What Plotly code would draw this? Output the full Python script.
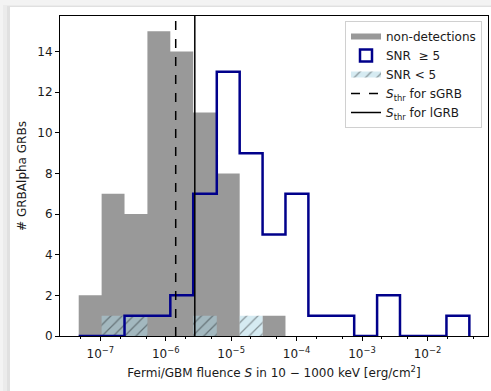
import numpy as np
import plotly.graph_objects as go

# log10 of the histogram bin edges
bin_edge_exp = [-7.33, -6.98, -6.63, -6.28, -5.93, -5.58, -5.22, -4.87, -4.52,
                -4.17, -3.82, -3.47, -3.12, -2.77, -2.42, -2.07, -1.71, -1.36]

# counts per bin
non_detections = [2, 7, 6, 15, 14, 11, 8, 0, 1, 0, 0, 0, 0, 0, 0, 0, 0]
snr_high = [0, 0, 1, 1, 2, 7, 13, 9, 5, 7, 1, 1, 0, 2, 0, 0, 1]
snr_low = [0, 1, 1, 0, 0, 1, 0, 1, 0, 0, 0, 0, 0, 0, 0, 0, 0]

# detection thresholds [erg/cm^2]
s_thr_short = 1.42e-6
s_thr_long = 2.78e-6

tick_exps = [-7, -6, -5, -4, -3, -2]
y_ticks = [0, 2, 4, 6, 8, 10, 12, 14]
Y_MAX = 15.75
X_RANGE = [-7.616, -1.075]

edges = 10.0 ** np.array(bin_edge_exp)


def bar_polygons(counts):
    xs, ys = [], []
    for i, c in enumerate(counts):
        if c <= 0:
            continue
        x0, x1 = edges[i], edges[i + 1]
        xs += [x0, x0, x1, x1, x0, None]
        ys += [0, c, c, 0, 0, None]
    return xs, ys


def step_outline(counts):
    xs = [edges[0]] + list(edges[:-1]) + [edges[-1]]
    ys = [0] + list(counts) + [0]
    return xs, ys


FONT = "DejaVu Sans"
TXT = "#1a1a1a"
FS = 12

fig = go.Figure()

gx, gy = bar_polygons(non_detections)
fig.add_trace(go.Scatter(
    x=gx, y=gy, mode="none", fill="toself", fillcolor="#999999",
    name="non-detections", legendrank=1, hoverinfo="skip"))

hx, hy = bar_polygons(snr_low)
fig.add_trace(go.Scatter(
    x=hx, y=hy, mode="none", fill="toself",
    fillcolor="rgba(173,216,230,0.5)",
    fillpattern=dict(shape="/", size=8, solidity=0.15,
                     fgcolor="rgba(0,0,0,0.75)", bgcolor="rgba(173,216,230,0.5)"),
    name="SNR < 5", legendrank=3, hoverinfo="skip"))

sx, sy = step_outline(snr_high)
fig.add_trace(go.Scatter(
    x=sx, y=sy, mode="lines", line=dict(color="#00008b", width=2.5, shape="hv"),
    showlegend=False, hoverinfo="skip"))
# legend patch for the outlined histogram
fig.add_trace(go.Bar(
    x=[None], y=[None],
    marker=dict(color="white", line=dict(color="#00008b", width=2.5)),
    name="SNR  \u2265 5", legendrank=2))

fig.add_trace(go.Scatter(
    x=[s_thr_short, s_thr_short], y=[0, Y_MAX], mode="lines",
    line=dict(color="black", width=1.5, dash="dash"),
    name="<i>S</i><sub>thr</sub> for sGRB", legendrank=4, hoverinfo="skip"))
fig.add_trace(go.Scatter(
    x=[s_thr_long, s_thr_long], y=[0, Y_MAX], mode="lines",
    line=dict(color="black", width=1.5),
    name="<i>S</i><sub>thr</sub> for lGRB", legendrank=5, hoverinfo="skip"))

W, H = 491, 391
ML, MR, MT, MB = 60, 3, 16, 55
PW, PH = W - ML - MR, H - MT - MB


def px_x(px):
    return (px - ML) / PW


def px_y(py):
    return (H - MB - py) / PH


# card background with a soft shadow on its top and left
shapes = [
    dict(type="rect", xref="paper", yref="paper", layer="below",
         x0=px_x(3), x1=px_x(W + 5), y0=px_y(H + 5), y1=px_y(5),
         fillcolor="#ebebeb", line_width=0),
    dict(type="rect", xref="paper", yref="paper", layer="below",
         x0=px_x(7), x1=px_x(W + 5), y0=px_y(H + 5), y1=px_y(6),
         fillcolor="#e0e0e0", line_width=0),
    dict(type="rect", xref="paper", yref="paper", layer="below",
         x0=px_x(10), x1=px_x(W + 5), y0=px_y(H + 5), y1=px_y(7),
         fillcolor="white", line_width=0),
]

fig.update_layout(
    width=W, height=H,
    margin=dict(l=ML, r=MR, t=MT, b=MB, pad=0),
    paper_bgcolor="#f3f3f3",
    plot_bgcolor="rgba(0,0,0,0)",
    font=dict(family=FONT, size=FS, color=TXT),
    shapes=shapes,
    showlegend=True,
    legend=dict(
        x=px_x(482), y=px_y(21), xanchor="right", yanchor="top",
        bgcolor="rgba(255,255,255,0.85)", bordercolor="#d0d0d0", borderwidth=1,
        font=dict(family=FONT, size=FS, color=TXT),
        tracegroupgap=0, itemwidth=30,
    ),
)

fig.update_xaxes(
    type="log", range=X_RANGE,
    tickvals=[10.0 ** e for e in tick_exps],
    ticktext=["10<sup>\u2212%d</sup>" % (-e) for e in tick_exps],
    ticks="outside", ticklen=4, tickwidth=1, tickcolor="black",
    ticklabelstandoff=3,
    minor=dict(ticks="outside", ticklen=2, tickwidth=0.8, tickcolor="black",
               showgrid=False),
    showgrid=False, zeroline=False,
    showline=True, linecolor="black", linewidth=1, mirror=True,
    tickfont=dict(family=FONT, size=FS, color=TXT),
    title=dict(text="Fermi/GBM fluence <i>S</i> in 10 \u2212 1000 keV [erg/cm<sup>2</sup>]",
               font=dict(family=FONT, size=FS, color=TXT), standoff=8),
)
fig.update_yaxes(
    range=[0, Y_MAX], tickvals=y_ticks,
    ticks="outside", ticklen=4, tickwidth=1, tickcolor="black",
    showgrid=False, zeroline=False,
    showline=True, linecolor="black", linewidth=1, mirror=True,
    tickfont=dict(family=FONT, size=FS, color=TXT),
    title=dict(text="# GRBAlpha GRBs", font=dict(family=FONT, size=FS, color=TXT),
               standoff=8),
)

fig.write_html("out.html")
